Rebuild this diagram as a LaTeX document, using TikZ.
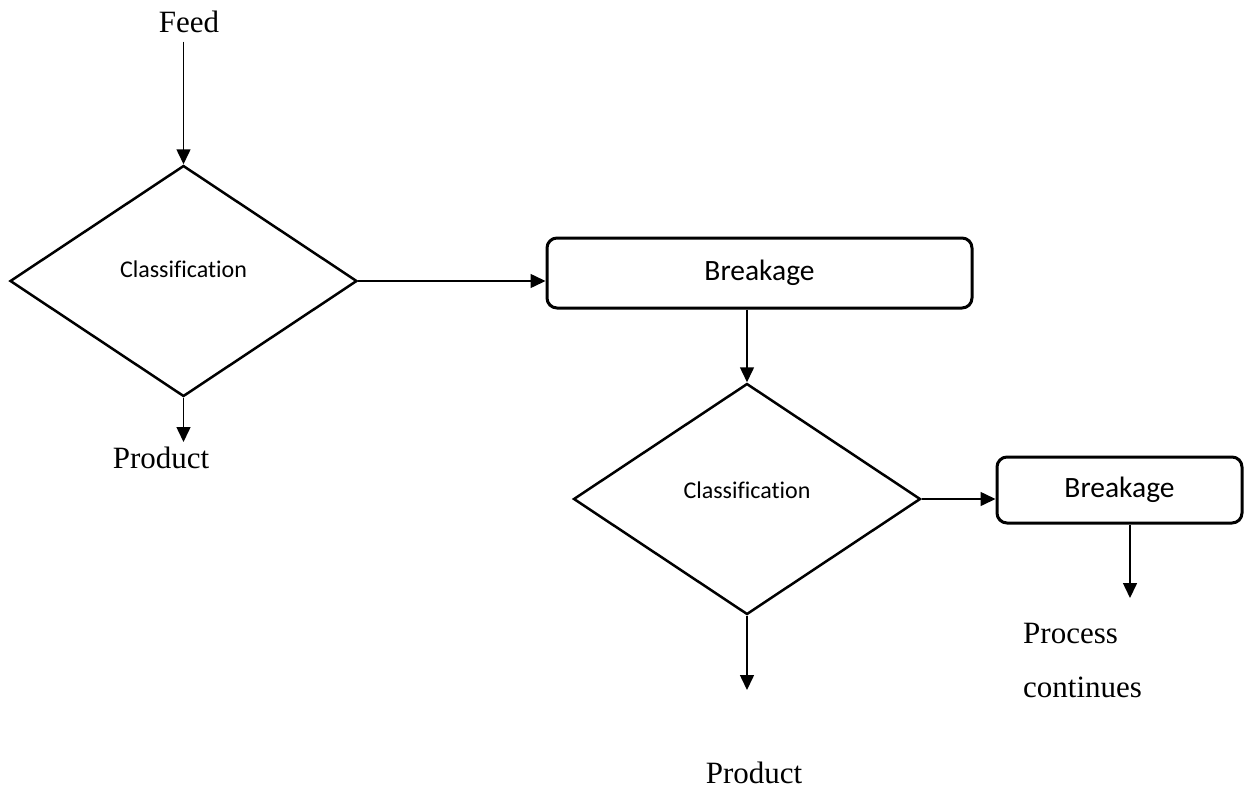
\documentclass[tikz,border=0pt]{standalone}
\usepackage{fontspec}
\setmainfont{Liberation Serif}
\newfontfamily\calibrifont[Ligatures=NoCommon]{Carlito}
\usetikzlibrary{arrows.meta,positioning,calc,shapes.geometric}
\tikzset{
  decision/.style={diamond, draw=black, line width=2.5pt, inner sep=0pt, minimum width=347pt, minimum height=231pt},
  stepbox/.style={draw=black, line width=3pt, rounded corners=10pt, inner sep=0pt, font=\calibrifont\fontsize{29.5}{35}\selectfont},
  flow/.style={-{Triangle[length=15pt, width=14pt]}, line width=1.5pt},
  cls/.style={font=\calibrifont\fontsize{24}{29}\selectfont},
  info/.style={font=\fontsize{31}{54}\selectfont, inner sep=0pt}
}
\begin{document}
\begin{tikzpicture}[x=1pt, y=-1pt]
  \useasboundingbox (0,0) rectangle (1244,788);
  % first stage
  \node[info, anchor=base] (feed) at (189,32) {Feed};
  \node[decision, label={[cls, yshift=12pt]center:Classification}] (dia1) at (183.5,281) {};
  \node[stepbox, minimum width=425pt, minimum height=70pt] (brk1) at (759.5,273) {Breakage};
  \coordinate (out1) at (183.5,442);
  \node[info, anchor=base] (prod1) at (161,468) {Product};
  % second stage
  \node[decision, label={[cls, yshift=9pt]center:Classification}] (dia2) at (747,499) {};
  \node[stepbox, minimum width=245pt, minimum height=66pt] (brk2) at (1119.5,490) {Breakage};
  \coordinate (out2) at (747,690);
  \coordinate (out3) at (1130,598);
  \node[info, anchor=base] (prod2) at (754,783) {Product};
  \node[info, anchor=base west, align=left] (cont) at (1023,697) {Process\\continues};
  % connectors
  \draw[flow] ($(dia1.north |- feed.south)+(0,9)$) -- (dia1.north);
  \draw[flow] (dia1.east) -- (dia1.east -| brk1.west);
  \draw[flow] (dia1.south) -- (out1);
  \draw[flow] (dia2.north |- brk1.south) -- (dia2.north);
  \draw[flow] (dia2.east) -- (dia2.east -| brk2.west);
  \draw[flow] (dia2.south) -- (out2);
  \draw[flow] (out3 |- brk2.south) -- (out3);
\end{tikzpicture}
\end{document}
